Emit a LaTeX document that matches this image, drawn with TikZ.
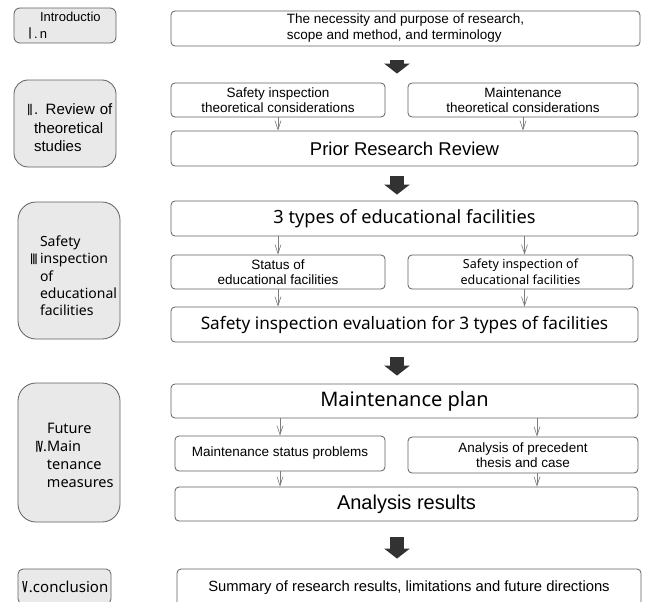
\documentclass[tikz,border=0pt]{standalone}
\usepackage{fontspec}
\setmainfont{Liberation Sans}
\newfontfamily\kofont{Noto Sans}
\newfontfamily\numfont[FakeStretch=0.55,FakeBold=1.5]{Noto Sans CJK KR}
\usetikzlibrary{arrows.meta,positioning,calc}
\definecolor{sidegray}{RGB}{233,233,233}
\definecolor{edgegray}{RGB}{95,95,95}
\definecolor{arrowdark}{RGB}{50,50,50}
\definecolor{tipgray}{RGB}{125,125,125}
\newcommand\indentby[1]{\leftskip=#1\relax}
\newcommand\hang[1]{\leavevmode\llap{#1}}
\newcommand\lowerby[1]{\par\nointerlineskip\vskip-#1\hbox{}}

\begin{document}
\begin{tikzpicture}[x=1pt,y=-1pt,
  side/.style={draw=edgegray,fill=sidegray,rounded corners=14pt,line width=0.8pt,
              text width=102pt,inner xsep=0pt,inner ysep=0pt,align=left},
  box/.style={draw=edgegray,rounded corners=4pt,line width=0.8pt,align=center,
              inner sep=0pt,minimum height=34pt},
  small/.style={font=\fontsize{13.5}{15.5}\selectfont},
  bigdown/.style={arrowdark,line width=14pt,-{Triangle[length=10pt,width=25pt]}},
  thin/.style={tipgray,line width=0.6pt,-{Straight Barb[length=9pt,width=6pt]}}]
\useasboundingbox (0,0) rectangle (645,602);

% left column
\node[side,rounded corners=6pt,minimum height=35pt,
      font=\fontsize{13}{16.5}\selectfont] (intro) at (65,25.5)
      {\indentby{26pt}Introductio\\\hang{{\numfont\fontsize{15}{15}\selectfont Ⅰ}.\,}n\par};
\node[side,minimum height=87pt,
      font=\fontsize{15}{18.5}\selectfont] (review) at (65,123.5)
      {\indentby{20pt}\hang{\numfont Ⅱ}. Review of\\theoretical\\studies\lowerby{9pt}};
\node[side,rounded corners=18pt,minimum height=137pt,
      font=\kofont\fontsize{14}{17.3}\selectfont] (safety) at (69,270.5)
      {\indentby{22pt}Safety\\\hang{\numfont Ⅲ\,}inspection\\of\\educational\\facilities\lowerby{11pt}};
\node[side,rounded corners=18pt,minimum height=139pt,
      font=\kofont\fontsize{14.5}{18}\selectfont] (future) at (69,452.5)
      {\indentby{29pt}Future\\\hang{\numfont Ⅳ\kofont.}Main\\tenance\\measures\lowerby{6pt}};
\node[side,rounded corners=5pt,text width=,minimum width=93pt,minimum height=35pt,align=center,
      font=\kofont\fontsize{15}{18}\selectfont] (concl) at (64.5,586.5)
      {{\numfont Ⅴ}.conclusion};

% right column
\node[box,small,minimum width=469pt,minimum height=35pt] (necessity) at (405.5,28.5)
      {\begin{tabular}{@{}l@{}}The necessity and purpose of research,\\scope and method, and terminology\end{tabular}};
\node[box,small,minimum width=214pt] (insptheory) at (278,100)
      {Safety inspection\\theoretical considerations};
\node[box,small,minimum width=230pt] (mainttheory) at (523,100)
      {Maintenance\\theoretical considerations};
\node[box,minimum width=467pt,minimum height=35pt,font=\fontsize{18.5}{22}\selectfont] (prior) at (404.5,148.5)
      {Prior Research Review};
\node[box,minimum width=467pt,minimum height=35pt,font=\kofont\fontsize{18.2}{22}\selectfont] (types) at (404.5,218.5)
      {3 types of educational facilities};
\node[box,small,minimum width=214pt] (status) at (278,272)
      {Status of\\educational facilities};
\node[box,minimum width=225pt,font=\kofont\fontsize{12.5}{15.5}\selectfont] (inspfac) at (520.5,272)
      {Safety inspection of\\educational facilities};
\node[box,minimum width=467pt,minimum height=35pt,font=\kofont\fontsize{17.2}{20}\selectfont] (evaluation) at (404.5,324.5)
      {Safety inspection evaluation for 3 types of facilities};
\node[box,minimum width=467pt,font=\kofont\fontsize{20}{24}\selectfont] (plan) at (404.5,401)
      {Maintenance plan};
\node[box,small,minimum width=210pt,minimum height=35pt] (problems) at (280,453.5)
      {Maintenance status problems};
\node[box,small,minimum width=230pt,minimum height=36pt] (precedent) at (523,455)
      {Analysis of precedent\\thesis and case};
\node[box,minimum width=463pt,font=\fontsize{20}{24}\selectfont] (results) at (406.5,504)
      {Analysis results};
\node[box,minimum width=464pt,minimum height=37pt,font=\fontsize{14.8}{18}\selectfont] (summary) at (409,587.5)
      {Summary of research results, limitations and future directions};

% big arrows between stages
\coordinate (ax) at (397,0);
\draw[bigdown,shorten <=14pt,shorten >=9pt] (necessity.south -| ax) -- (insptheory.north -| ax);
\draw[bigdown,shorten <=10pt,shorten >=6pt] (prior.south -| ax) -- (types.north -| ax);
\draw[bigdown,shorten <=15pt,shorten >=8pt] (evaluation.south -| ax) -- (plan.north -| ax);
\draw[bigdown,shorten <=16pt,shorten >=10pt] (results.south -| ax) -- (summary.north -| ax);

% small arrows
\draw[thin] (insptheory.south) -- (insptheory.south |- prior.north);
\draw[thin] (mainttheory.south) -- (mainttheory.south |- prior.north);
\draw[thin] (status.north |- types.south) -- (status.north);
\draw[thin] ([xshift=4pt]inspfac.north |- types.south) -- ([xshift=4pt]inspfac.north);
\draw[thin] (status.south) -- (status.south |- evaluation.north);
\draw[thin] ([xshift=4pt]inspfac.south) -- ([xshift=4pt]inspfac.south |- evaluation.north);
\draw[thin] (problems.north |- plan.south) -- (problems.north);
\draw[thin] ([xshift=14pt]precedent.north |- plan.south) -- ([xshift=14pt]precedent.north);
\draw[thin] (problems.south) -- (problems.south |- results.north);
\draw[thin] ([xshift=14pt]precedent.south) -- ([xshift=14pt]precedent.south |- results.north);
\end{tikzpicture}
\end{document}
